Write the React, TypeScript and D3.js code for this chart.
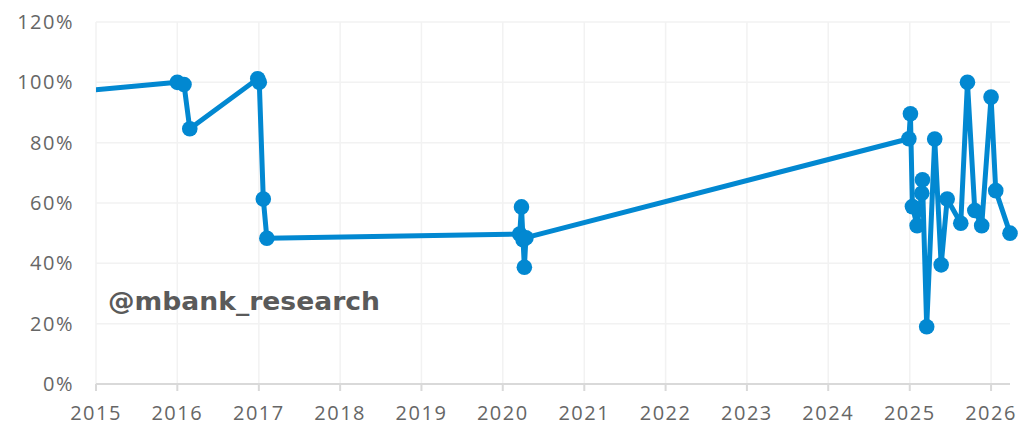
import React from "react";
import * as d3 from "d3";

const dates: string[] = [
  "2014-01-01",
  "2016-01-01", "2016-01-31", "2016-02-26",
  "2016-12-27", "2017-01-03", "2017-01-21", "2017-02-06",
  "2020-03-17", "2020-03-25", "2020-04-01", "2020-04-07", "2020-04-14",
  "2024-12-28", "2025-01-04", "2025-01-13", "2025-02-03", "2025-02-24", "2025-02-27",
  "2025-03-18", "2025-04-23", "2025-05-22", "2025-06-18", "2025-08-18", "2025-09-17",
  "2025-10-20", "2025-11-20", "2026-01-01", "2026-01-22", "2026-03-27",
];
const values: number[] = [
  95.1,
  100, 99.3, 84.6,
  101.2, 100, 61.3, 48.3,
  49.7, 58.7, 47.8, 38.7, 48.5,
  81.3, 89.6, 58.8, 52.5, 63.2, 67.7,
  19.0, 81.2, 39.5, 61.3, 53.3, 100,
  57.5, 52.5, 95.1, 64.1, 50.0,
];
const yTicks: number[] = [0, 20, 40, 60, 80, 100, 120];
const xTickYears: number[] = [2015, 2016, 2017, 2018, 2019, 2020, 2021, 2022, 2023, 2024, 2025, 2026];
const watermark = "@mbank_research";

const W = 1025, H = 428;
const M = { left: 96, right: 1010, top: 22, bottom: 384 };
const BLUE = "#0288d1";

export default function App() {
  const parse = d3.utcParse("%Y-%m-%d");
  const pts = dates.map((d, i) => ({ date: parse(d) as Date, v: values[i] }));
  const x = d3.scaleUtc().domain([new Date(Date.UTC(2015, 0, 1)), parse("2026-03-27") as Date]).range([M.left, M.right]);
  const y = d3.scaleLinear().domain([0, 120]).range([M.bottom, M.top]);
  const line = d3.line<{ date: Date; v: number }>().x(p => x(p.date)).y(p => y(p.v));
  const xTicks = xTickYears.map(yr => new Date(Date.UTC(yr, 0, 1)));
  const visible = pts.filter(p => x(p.date) >= M.left);
  const font = "'Open Sans', sans-serif";
  return (
    <svg width={W} height={H} style={{ position: "absolute", left: 0, top: 0, background: "#fff" }}>
      <defs>
        <clipPath id="plotclip">
          <rect x={M.left} y={0} width={W - M.left} height={H} />
        </clipPath>
      </defs>
      {yTicks.map(t => (
        <line key={"gy" + t} x1={M.left} x2={M.right} y1={y(t)} y2={y(t)} stroke="#f2f2f2" strokeWidth={1.5} />
      ))}
      {xTicks.map((t, i) => (
        <line key={"gx" + i} x1={x(t)} x2={x(t)} y1={M.top} y2={M.bottom} stroke="#f2f2f2" strokeWidth={1.5} />
      ))}
      <line x1={M.left} x2={M.right} y1={M.bottom} y2={M.bottom} stroke="#d9d9d9" strokeWidth={2} />
      {xTicks.map((t, i) => (
        <g key={"xt" + i}>
          <line x1={x(t)} x2={x(t)} y1={M.bottom} y2={M.bottom + 7} stroke="#d9d9d9" strokeWidth={2} />
          <text x={x(t)} y={420} textAnchor="middle" fontFamily={font} fontSize={20} fill="#666" letterSpacing={1.5}>
            {xTickYears[i]}
          </text>
        </g>
      ))}
      {yTicks.map(t => (
        <text key={"yt" + t} x={74} y={y(t) + 7} textAnchor="end" fontFamily={font} fontSize={20} fill="#666" letterSpacing={1.5}>
          {t + "%"}
        </text>
      ))}
      <text x={108} y={310} fontFamily="'DejaVu Sans', Verdana, sans-serif" fontWeight="bold" fontSize={24} fill="#5a5a5a" textLength={272} lengthAdjust="spacingAndGlyphs">
        {watermark}
      </text>
      <path d={line(pts) || ""} fill="none" stroke={BLUE} strokeWidth={5} strokeLinejoin="round" clipPath="url(#plotclip)" />
      {visible.map((p, i) => (
        <circle key={"pt" + i} cx={x(p.date)} cy={y(p.v)} r={7.8} fill={BLUE} />
      ))}
    </svg>
  );
}
